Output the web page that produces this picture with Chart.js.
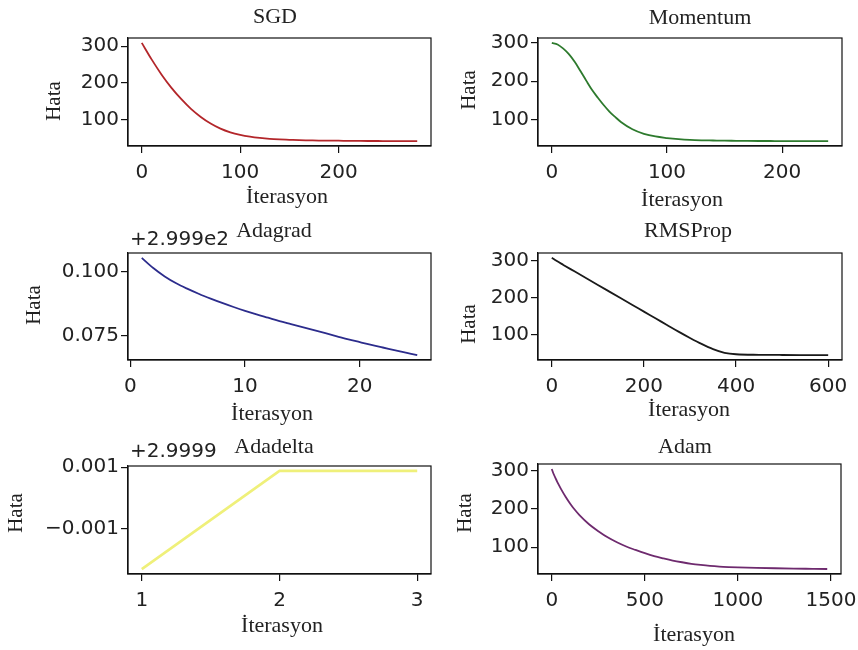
<!DOCTYPE html>
<html>
<head>
<meta charset="utf-8">
<script src="https://cdn.jsdelivr.net/npm/chart.js@4.4.1/dist/chart.umd.min.js"></script>
<style>
    html, body { margin: 0; padding: 0; background: #fff; overflow: hidden; }
    #page { position: relative; width: 858px; height: 650px; overflow: hidden; background: #fff; }
    canvas { position: absolute; }
</style>
</head>
<body>
<div id="page">
    <canvas id="sgd" width="440" height="215" style="left:0px;top:0px"></canvas>
    <canvas id="momentum" width="430" height="215" style="left:440px;top:0px"></canvas>
    <canvas id="adagrad" width="440" height="215" style="left:0px;top:215px"></canvas>
    <canvas id="rmsprop" width="430" height="215" style="left:440px;top:215px"></canvas>
    <canvas id="adadelta" width="440" height="220" style="left:0px;top:430px"></canvas>
    <canvas id="adam" width="430" height="220" style="left:440px;top:430px"></canvas>
</div>
<script>
const sgdIter = [0, 10, 20, 30, 40, 50, 60, 70, 80, 90, 100, 110, 120, 130, 140, 150, 160, 170, 180, 190, 200, 210, 220, 230, 240, 250, 260, 270, 280];
const sgdLoss = [309, 264, 223, 187, 156, 129, 107, 89, 75, 65, 58, 53, 49.5, 47, 45.5, 44.5, 43.5, 43, 42.5, 42.2, 42, 41.7, 41.5, 41.3, 41.2, 41.1, 41, 41, 41];

const momentumIter = [0, 5, 10, 15, 20, 25, 30, 35, 40, 45, 50, 55, 60, 70, 80, 90, 100, 110, 120, 130, 140, 150, 160, 170, 180, 190, 200, 210, 220, 230, 240];
const momentumLoss = [300, 296, 285, 270, 250, 226, 201, 177, 157, 138, 121, 107, 94, 75, 63, 56, 52, 49, 47, 46, 45.5, 45, 44.8, 44.5, 44.3, 44.2, 44, 44, 44, 44, 44];

// Adagrad values are relative to the offset shown on the axis (+2.999e2)
const adagradOffset = '+2.999e2';
const adagradIter = [1, 2, 3, 4, 5, 6, 7, 8, 9, 10, 11, 12, 13, 14, 15, 16, 17, 18, 19, 20, 21, 22, 23, 24, 25];
const adagradLoss = [0.1055, 0.1015, 0.0982, 0.0955, 0.0933, 0.0913, 0.0895, 0.0878, 0.0862, 0.0847, 0.0833, 0.0820, 0.0807, 0.0795, 0.0783, 0.0771, 0.0759, 0.0747, 0.0735, 0.0724, 0.0713, 0.0703, 0.0693, 0.0683, 0.0673];

const rmspropIter = [0, 10, 25, 50, 75, 100, 125, 150, 175, 200, 225, 250, 275, 300, 325, 350, 375, 400, 450, 500, 550, 600];
const rmspropLoss = [307, 299, 288, 270, 252, 234, 216, 198, 180, 162, 144, 126, 108, 91, 75, 61, 51, 47, 45.5, 45, 44.8, 44.6];

// Adadelta values are relative to the offset +2.9999
const adadeltaOffset = '+2.9999';
const adadeltaIter = [1, 2, 3];
const adadeltaLoss = [-0.0023, 0.00088, 0.00088];

const adamIter = [0, 10, 20, 30, 40, 50, 75, 100, 125, 150, 200, 250, 300, 350, 400, 450, 500, 550, 600, 650, 700, 750, 800, 850, 900, 950, 1000, 1100, 1200, 1300, 1400, 1480];
const adamLoss = [304, 291, 280, 270, 260.5, 251.5, 231, 213, 197, 183, 160, 142, 126, 113, 102, 93, 84.5, 77, 71, 65.5, 61, 57, 54, 51.5, 49.7, 48.5, 47.6, 46.3, 45.3, 44.5, 43.9, 43.4];

// Tick labels
const sgdXTicks = [0, 100, 200];
const momentumXTicks = [0, 100, 200];
const adagradXTicks = [0, 10, 20];
const rmspropXTicks = [0, 200, 400, 600];
const adadeltaXTicks = [1, 2, 3];
const adamXTicks = [0, 500, 1000, 1500];
const lossYTicks = [100, 200, 300];
const adagradYTicks = [0.075, 0.100];
const adadeltaYTicks = [-0.001, 0.001];

const xLabel = 'İterasyon';
const yLabel = 'Hata';

const TICK_FONT = { family: 'DejaVu Sans', size: 20 };
const SERIF = '"Liberation Serif", "Times New Roman", serif';

// draws the frame, titles, axis labels and offset text like matplotlib
const subplotText = {
    id: 'subplotText',
    afterDraw(chart, args, o) {
        const ctx = chart.ctx;
        const a = chart.chartArea;
        ctx.save();
        ctx.strokeStyle = '#111';
        ctx.lineWidth = 1.2;
        ctx.strokeRect(a.left, a.top, a.right - a.left, a.bottom - a.top);

        ctx.fillStyle = '#222';
        ctx.textBaseline = 'middle';
        if (o.offset) {
            ctx.font = '20px "DejaVu Sans"';
            ctx.textAlign = 'left';
            ctx.fillText(o.offset, o.offsetX, o.offsetY);
        }

        ctx.font = '22px ' + SERIF;
        ctx.textAlign = 'center';
        const w = ctx.measureText(o.title).width;
        ctx.fillStyle = '#fff';
        ctx.fillRect(o.titleX - w / 2 - 6, o.titleY - 11, w + 12, 21);
        ctx.fillStyle = '#222';
        ctx.fillText(o.title, o.titleX, o.titleY);
        ctx.fillText(xLabel, o.xlabelX, o.xlabelY);

        ctx.font = '21px ' + SERIF;
        ctx.translate(o.ylabelX, o.ylabelY);
        ctx.rotate(-Math.PI / 2);
        ctx.fillText(yLabel, 0, 0);
        ctx.restore();
    }
};

function range(vals) {
    const lo = Math.min(...vals), hi = Math.max(...vals);
    const m = (hi - lo) * 0.05;
    return [lo - m, hi + m];
}

const fmtInt = v => String(v);
const fmt3 = v => (v < 0 ? '\u2212' : '') + Math.abs(v).toFixed(3);

function axis(ticks, fmt, lim, fit, pad) {
    return {
        type: 'linear',
        min: lim[0],
        max: lim[1],
        afterBuildTicks: s => { s.ticks = ticks.map(v => ({ value: v })); },
        afterFit: fit,
        grid: { display: true, drawOnChartArea: false, drawTicks: true, tickLength: 7, color: '#111', lineWidth: 1.2 },
        border: { display: true, color: '#111', width: 1.2 },
        ticks: { autoSkip: false, maxRotation: 0, minRotation: 0, padding: pad, color: '#222', font: TICK_FONT, callback: fmt }
    };
}

function makeChart(id, s) {
    const canvas = document.getElementById(id);
    const W = canvas.width, H = canvas.height;
    return new Chart(canvas, {
        type: 'line',
        data: {
            datasets: [{
                data: s.xs.map((x, i) => ({ x: x, y: s.ys[i] })),
                borderColor: s.color,
                borderWidth: s.lineWidth || 1.8,
                pointRadius: 0,
                fill: false,
                cubicInterpolationMode: s.straight ? 'default' : 'monotone',
                tension: 0
            }]
        },
        options: {
            responsive: false,
            animation: false,
            events: [],
            layout: { padding: { top: s.area.top, right: W - s.area.right, left: 0, bottom: 0 } },
            plugins: {
                legend: { display: false },
                tooltip: { enabled: false },
                subplotText: s.text
            },
            scales: {
                x: Object.assign(axis(s.xTicks, fmtInt, range(s.xs), sc => { sc.height = H - s.area.bottom; }, 8), { position: 'bottom' }),
                y: Object.assign(axis(s.yTicks, s.yFmt || fmtInt, range(s.ys), sc => { sc.width = s.area.left; }, 2), { position: 'left' })
            }
        },
        plugins: [subplotText]
    });
}

makeChart('sgd', {
    xs: sgdIter, ys: sgdLoss, color: '#b3262a', xTicks: sgdXTicks, yTicks: lossYTicks,
    area: { top: 38, bottom: 146, left: 128, right: 431 },
    text: { title: 'SGD', titleX: 275, titleY: 17, xlabelX: 287, xlabelY: 197, ylabelX: 54, ylabelY: 101 }
});

makeChart('momentum', {
    xs: momentumIter, ys: momentumLoss, color: '#2d7a2d', xTicks: momentumXTicks, yTicks: lossYTicks,
    area: { top: 38, bottom: 146, left: 98, right: 402 },
    text: { title: 'Momentum', titleX: 260, titleY: 18, xlabelX: 242, xlabelY: 200, ylabelX: 29, ylabelY: 90 }
});

makeChart('adagrad', {
    xs: adagradIter, ys: adagradLoss, color: '#2c2c8c', xTicks: adagradXTicks, yTicks: adagradYTicks, yFmt: fmt3,
    area: { top: 38, bottom: 145, left: 128, right: 431 },
    text: { title: 'Adagrad', titleX: 274, titleY: 16, offset: adagradOffset, offsetX: 130, offsetY: 25,
            xlabelX: 272, xlabelY: 199, ylabelX: 34, ylabelY: 90 }
});

makeChart('rmsprop', {
    xs: rmspropIter, ys: rmspropLoss, color: '#1a1a1a', xTicks: rmspropXTicks, yTicks: lossYTicks,
    area: { top: 38, bottom: 145, left: 98, right: 402 },
    text: { title: 'RMSProp', titleX: 248, titleY: 16, xlabelX: 249, xlabelY: 195, ylabelX: 29, ylabelY: 109 }
});

makeChart('adadelta', {
    xs: adadeltaIter, ys: adadeltaLoss, color: '#eff07a', lineWidth: 2.6, straight: true,
    xTicks: adadeltaXTicks, yTicks: adadeltaYTicks, yFmt: fmt3,
    area: { top: 36, bottom: 144, left: 128, right: 431 },
    text: { title: 'Adadelta', titleX: 274, titleY: 17, offset: adadeltaOffset, offsetX: 130, offsetY: 22,
            xlabelX: 282, xlabelY: 196, ylabelX: 16, ylabelY: 83 }
});

makeChart('adam', {
    xs: adamIter, ys: adamLoss, color: '#6e2a6e', xTicks: adamXTicks, yTicks: lossYTicks,
    area: { top: 34, bottom: 144, left: 98, right: 401 },
    text: { title: 'Adam', titleX: 245, titleY: 17, xlabelX: 254, xlabelY: 205, ylabelX: 25, ylabelY: 83 }
});
</script>
</body>
</html>
